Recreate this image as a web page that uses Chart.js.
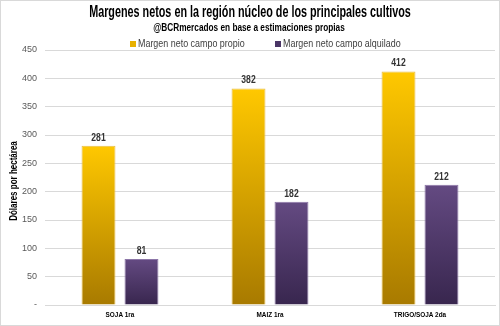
<!DOCTYPE html>
<html><head><meta charset="utf-8">
<script src="https://cdn.jsdelivr.net/npm/chart.js@4/dist/chart.umd.min.js"></script>
<style>
html,body{margin:0;padding:0;background:#fff;}
#wrap{position:relative;width:500px;height:326px;}
canvas{display:block;}
#frame{position:absolute;left:0;top:0;width:498px;height:324px;border:1px solid #d9d9d9;pointer-events:none;}
</style></head><body>
<div id="wrap"><canvas id="c" width="500" height="326"></canvas><div id="frame"></div></div>
<script>
const categories = ["SOJA 1ra", "MAIZ 1ra", "TRIGO/SOJA 2da"];
const propio = [281, 382, 412];
const alquilado = [81, 182, 212];
const seriesNames = ["Margen neto campo propio", "Margen neto campo alquilado"];
const yTicks = [0, 50, 100, 150, 200, 250, 300, 350, 400, 450];

const titleText = "Margenes netos en la región núcleo de los principales cultivos";
const subtitleText = "@BCRmercados en base a estimaciones propias";
const yTitleText = "Dólares por hectárea";
const sans = "'Liberation Sans',Arial,sans-serif";

// draw text squeezed horizontally by factor sx, anchored by align
function condText(ctx, text, x, y, font, sx, align) {
  ctx.save();
  ctx.font = font;
  ctx.textBaseline = 'middle';
  ctx.textAlign = 'left';
  const w = ctx.measureText(text).width * sx;
  let x0 = x;
  if (align === 'center') x0 = x - w / 2;
  else if (align === 'right') x0 = x - w;
  ctx.translate(x0, y);
  ctx.scale(sx, 1);
  ctx.fillText(text, 0, 0);
  ctx.restore();
}

function grad(ctx, top, bottom, c1, c2) {
  const g = ctx.createLinearGradient(0, top, 0, bottom);
  g.addColorStop(0, c1); g.addColorStop(1, c2);
  return g;
}
function barFill(c1, c2) {
  return function(context) {
    const chart = context.chart;
    if (!chart.chartArea || context.type !== 'data') return c1;
    const y = chart.scales.y;
    const top = y.getPixelForValue(context.raw);
    const bottom = y.getPixelForValue(0);
    return grad(chart.ctx, top, bottom, c1, c2);
  };
}

const titlePlugin = {
  id: 'titles',
  afterDraw(chart) {
    const ctx = chart.ctx;
    ctx.fillStyle = '#000';
    condText(ctx, titleText, 250, 13, "bold 16px " + sans, 0.675, 'center');
    condText(ctx, subtitleText, 249, 28, "bold 11px " + sans, 0.75, 'center');
    // legend
    ctx.fillStyle = '#E8B000'; ctx.fillRect(130, 41, 6, 6);
    ctx.fillStyle = '#4A3566'; ctx.fillRect(275, 41, 6, 6);
    ctx.fillStyle = '#404040';
    condText(ctx, seriesNames[0], 138, 44.5, "10.5px " + sans, 0.85, 'left');
    condText(ctx, seriesNames[1], 283, 44.5, "10.5px " + sans, 0.85, 'left');
    // y axis title
    ctx.save();
    ctx.translate(14, 181);
    ctx.rotate(-Math.PI / 2);
    ctx.fillStyle = '#000';
    condText(ctx, yTitleText, 0, 0, "bold 10px " + sans, 0.8, 'center');
    ctx.restore();
    // x category labels
    const xs = chart.scales.x;
    ctx.fillStyle = '#000';
    categories.forEach((c, i) => {
      condText(ctx, c, xs.getPixelForTick(i), 315, "bold 8px " + sans, 0.8, 'center');
    });
    // value labels
    ctx.fillStyle = '#333';
    chart.data.datasets.forEach((ds, i) => {
      const meta = chart.getDatasetMeta(i);
      meta.data.forEach((bar, j) => {
        condText(ctx, String(ds.data[j]), bar.x, bar.y - 8, "bold 10.5px " + sans, 0.82, 'center');
      });
    });
  }
};

new Chart(document.getElementById('c'), {
  type: 'bar',
  data: {
    labels: categories,
    datasets: [
      { label: seriesNames[0], data: propio,
        backgroundColor: barFill('#FFC800', '#A87A00'),
        borderColor: '#E7BE4A', borderWidth: 1,
        categoryPercentage: 0.573, barPercentage: 0.79 },
      { label: seriesNames[1], data: alquilado,
        backgroundColor: barFill('#644A82', '#38264E'),
        borderColor: '#8C76A8', borderWidth: 1,
        categoryPercentage: 0.573, barPercentage: 0.79 }
    ]
  },
  options: {
    responsive: false,
    animation: false,
    devicePixelRatio: 1,
    layout: { padding: { top: 50, right: 5, left: 0, bottom: 0 } },
    plugins: { legend: { display: false }, title: { display: false }, tooltip: { enabled: false } },
    scales: {
      x: {
        grid: { display: false },
        border: { color: '#d9d9d9', width: 1 },
        ticks: { display: false },
        afterFit(s) { s.height = 21; }
      },
      y: {
        min: 0, max: 450,
        afterBuildTicks(s) { s.ticks = yTicks.map(v => ({ value: v })); },
        grid: { color: '#d9d9d9', drawTicks: false },
        border: { display: false },
        ticks: { color: '#595959', font: { family: sans, size: 9 }, padding: 8,
          callback: v => v === 0 ? '-' : String(v) },
        afterFit(s) { s.width = 45; }
      }
    }
  },
  plugins: [titlePlugin]
});
</script>
</body></html>
